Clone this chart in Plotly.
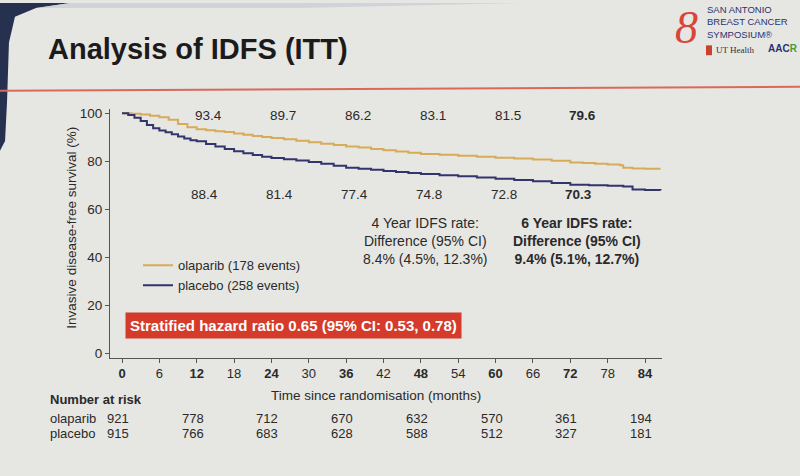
import plotly.graph_objects as go

W, H = 800, 476

# ---------------- data ----------------
months_olap = [0, 1.5, 3, 4.5, 6, 7.5, 9, 10.5, 12, 13.5, 15, 16.5, 18, 19.5, 21, 22.5, 24,
               26, 28, 30, 32, 34, 36, 38, 40, 42, 44, 46, 48, 51, 54, 57, 60, 63, 66, 69,
               72, 74, 76, 78, 80, 80.5, 82, 84, 86.5]
surv_olap = [100, 99.8, 99.5, 99.0, 98.4, 97.3, 95.6, 94.2, 93.4, 93.0, 92.6, 92.2, 91.6,
             91.1, 90.6, 90.2, 89.7, 89.2, 88.6, 88.0, 87.4, 86.8, 86.2, 85.8, 85.2, 84.6,
             84.1, 83.6, 83.1, 82.8, 82.4, 82.0, 81.5, 81.2, 80.8, 80.3, 79.6, 79.3, 79.0,
             78.7, 78.4, 77.4, 77.1, 77.0, 77.0]

months_plac = [0, 1, 2, 3, 4, 5, 6, 7, 8, 9, 10, 11, 12, 13.5, 15, 16.5, 18, 19.5, 21, 22.5,
               24, 26, 28, 30, 32, 34, 36, 38, 40, 42, 44, 46, 48, 51, 54, 57, 60, 63, 66,
               69, 72, 75, 78, 80.5, 82, 84, 86.5]
surv_plac = [100, 99.3, 98.2, 96.8, 95.2, 93.8, 92.9, 92.1, 91.3, 90.4, 89.5, 88.8, 88.4,
             87.3, 86.2, 85.2, 84.2, 83.4, 82.7, 82.0, 81.4, 80.9, 80.4, 79.8, 79.0, 78.2,
             77.4, 77.0, 76.5, 76.0, 75.6, 75.2, 74.8, 74.3, 73.8, 73.3, 72.8, 72.3, 71.8,
             71.0, 70.3, 70.1, 69.9, 69.6, 68.3, 68.1, 68.0]

label_months = [12, 24, 36, 48, 60, 72]
label_olap = ["93.4", "89.7", "86.2", "83.1", "81.5", "79.6"]
label_plac = ["88.4", "81.4", "77.4", "74.8", "72.8", "70.3"]

risk_months = [0, 12, 24, 36, 48, 60, 72, 84]
risk_olap = [921, 778, 712, 670, 632, 570, 361, 194]
risk_plac = [915, 766, 683, 628, 588, 512, 327, 181]

xtick_vals = list(range(0, 85, 6))
ytick_vals = [0, 20, 40, 60, 80, 100]

names = ["olaparib (178 events)", "placebo (258 events)"]
colors = ["#d8ab58", "#33346c"]

FONT = "Liberation Sans, Arial, sans-serif"
TXT = "#2a2a2a"


def px(x):
    return x / W


def py(y):
    return 1 - y / H


# ---------------- figure ----------------
fig = go.Figure()
fig.add_trace(go.Scatter(x=months_olap, y=surv_olap, mode="lines", name=names[0],
                         line=dict(color=colors[0], width=2, shape="hv")))
fig.add_trace(go.Scatter(x=months_plac, y=surv_plac, mode="lines", name=names[1],
                         line=dict(color=colors[1], width=2, shape="hv")))

ppm = (645 - 122) / 84.0
x_left, x_right = 110, 662
xr = [-(122 - x_left) / ppm, (x_right - 122) / ppm]
ppy = (356 - 112) / 100.0
y_top, y_bot = 108, 360
yr = [-(y_bot - 356) / ppy, 100 + (112 - y_top) / ppy]

ann = []
# title
ann.append(dict(x=px(46), y=py(47), xref="paper", yref="paper", xanchor="left",
                yanchor="middle", text="<b>Analysis of IDFS (ITT)</b>", showarrow=False,
                font=dict(size=29, color="#1b1b1b")))
# logo texts
ann.append(dict(x=px(706), y=py(0), xref="paper", yref="paper", xanchor="left",
                yanchor="top", text="SAN ANTONIO<br>BREAST CANCER<br>SYMPOSIUM®",
                showarrow=False, align="left", borderpad=0,
                font=dict(size=9.5, color="#2c3270")))
ann.append(dict(x=px(686), y=py(25), xref="paper", yref="paper", xanchor="center",
                yanchor="middle", text="<i>8</i>", showarrow=False,
                font=dict(size=46, color="#d8463b", family="Liberation Serif, serif")))
ann.append(dict(x=px(714), y=py(48), xref="paper", yref="paper", xanchor="left",
                yanchor="middle", text="UT Health", showarrow=False,
                font=dict(size=9, color="#333", family="Liberation Serif, serif")))
ann.append(dict(x=px(766), y=py(46), xref="paper", yref="paper", xanchor="left",
                yanchor="middle", text="<b>AAC<span style='color:#4a9a3a'>R</span></b>",
                showarrow=False, font=dict(size=10, color="#2c3270")))

# survival labels
for m, t in zip(label_months, label_olap):
    bold = m == 72
    ann.append(dict(x=m, y=99.2, xref="x", yref="y", xshift=12, text=f"<b>{t}</b>" if bold else t,
                    showarrow=False, font=dict(size=13.5, color=TXT)))
for m, t in zip(label_months, label_plac):
    bold = m == 72
    ann.append(dict(x=m, y=66.4, xref="x", yref="y", xshift=8, text=f"<b>{t}</b>" if bold else t,
                    showarrow=False, font=dict(size=13.5, color=TXT)))

# rate difference blocks
ann.append(dict(x=px(425), y=py(242), xref="paper", yref="paper", xanchor="center",
                yanchor="middle", align="center", showarrow=False,
                text="4 Year IDFS rate:<br>Difference (95% CI)<br>8.4% (4.5%, 12.3%)",
                font=dict(size=14, color=TXT)))
ann.append(dict(x=px(577), y=py(242), xref="paper", yref="paper", xanchor="center",
                yanchor="middle", align="center", showarrow=False,
                text="<b>6 Year IDFS rate:<br>Difference (95% CI)<br>9.4% (5.1%, 12.7%)</b>",
                font=dict(size=14, color=TXT)))

# hazard ratio box
ann.append(dict(x=px(293), y=py(327), xref="paper", yref="paper", xanchor="center",
                yanchor="middle", showarrow=False,
                text="<b>Stratified hazard ratio 0.65 (95% CI: 0.53, 0.78)</b>",
                bgcolor="#d43b2b", borderpad=4, font=dict(size=15, color="white")))

# axis titles
ann.append(dict(x=px(376), y=py(398), xref="paper", yref="paper", xanchor="center",
                yanchor="middle", showarrow=False, text="Time since randomisation (months)",
                font=dict(size=13.5, color=TXT)))
ann.append(dict(x=px(72), y=py(228), xref="paper", yref="paper", xanchor="center",
                yanchor="middle", showarrow=False, textangle=-90,
                text="Invasive disease-free survival (%)", font=dict(size=13.5, color=TXT)))

# number at risk table
ann.append(dict(x=px(48), y=py(402), xref="paper", yref="paper", xanchor="left",
                yanchor="middle", showarrow=False, text="<b>Number at risk</b>",
                font=dict(size=13, color=TXT)))
for row_y, lab, vals in [(422, "olaparib", risk_olap), (437, "placebo", risk_plac)]:
    ann.append(dict(x=px(48), y=py(row_y), xref="paper", yref="paper", xanchor="left",
                    yanchor="middle", showarrow=False, text=lab, font=dict(size=13, color=TXT)))
    for m, v in zip(risk_months, vals):
        ann.append(dict(x=m, y=py(row_y), xref="x", yref="paper", xanchor="center",
                        yanchor="middle", showarrow=False, xshift=-4, text=str(v),
                        font=dict(size=13, color=TXT)))


def path(points):
    return "M" + " L".join(f"{px(a):.4f},{py(b):.4f}" for a, b in points) + " Z"


shapes = [
    # dark photo corner
    dict(type="path", xref="paper", yref="paper", line=dict(width=0), fillcolor="#25314f",
         path=path([(0, 0), (70, 0), (36, 5), (15, 14), (9, 40), (7, 100), (5, 140), (0, 150)])),
    dict(type="path", xref="paper", yref="paper", line=dict(width=0), fillcolor="#c6ccd6",
         opacity=0.7, path=path([(70, 0), (520, 0), (300, 5), (36, 5)])),
    # red rule under title
    dict(type="line", xref="paper", yref="paper", x0=0, x1=1, y0=py(89), y1=py(85),
         line=dict(color="#d9695c", width=2)),
    # UT shield
    dict(type="rect", xref="paper", yref="paper", x0=px(706), x1=px(712), y0=py(53), y1=py(43),
         fillcolor="#c8432f", line=dict(width=0)),
]

fig.update_layout(
    width=W, height=H, margin=dict(l=0, r=0, t=0, b=0),
    paper_bgcolor="#e6e6e3", plot_bgcolor="rgba(0,0,0,0)",
    font=dict(family=FONT, size=13, color=TXT),
    showlegend=True,
    legend=dict(x=px(138), y=py(251), xanchor="left", yanchor="top", bgcolor="rgba(0,0,0,0)",
                font=dict(size=13, color=TXT), tracegroupgap=0, itemwidth=30),
    xaxis=dict(domain=[px(x_left), px(x_right)], range=xr, tickvals=xtick_vals,
               ticktext=[f"<b>{v}</b>" if v % 12 == 0 else str(v) for v in xtick_vals],
               ticks="outside", ticklen=4, tickcolor="#555", showline=True, linecolor="#555",
               linewidth=1.2, showgrid=False, zeroline=False, tickfont=dict(size=13, color=TXT)),
    yaxis=dict(domain=[1 - y_bot / H, 1 - y_top / H], range=yr, tickvals=ytick_vals,
               ticks="outside", ticklen=4, tickcolor="#555", showline=True, linecolor="#555",
               linewidth=1.2, showgrid=False, zeroline=False, tickfont=dict(size=13.5, color=TXT)),
    annotations=ann, shapes=shapes,
)

fig.write_html("out.html", config={"displayModeBar": False},
               post_script="document.body.style.margin='0px';")
